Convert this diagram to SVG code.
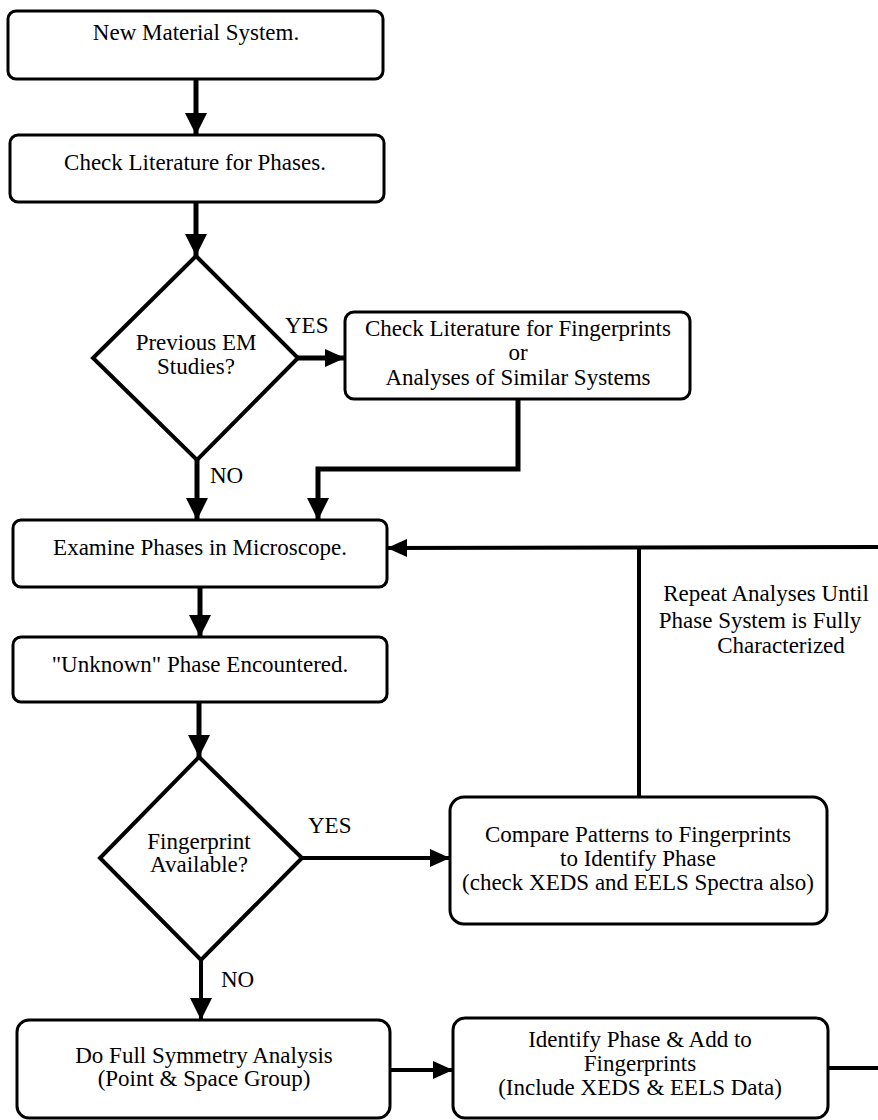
<svg xmlns="http://www.w3.org/2000/svg" width="878" height="1120" viewBox="0 0 878 1120">
<defs>
<style>
.box{fill:#fff;stroke:#000;stroke-width:3}
.dia{fill:#fff;stroke:#000;stroke-width:4}
.t{font-family:"Liberation Serif","Times New Roman",serif;font-size:23px;fill:#000;text-anchor:middle}
.l{font-family:"Liberation Serif","Times New Roman",serif;font-size:23px;fill:#000}
.c{fill:none;stroke:#000;stroke-width:5}
.f{fill:none;stroke:#000;stroke-width:4}
</style>
<marker id="av" markerUnits="userSpaceOnUse" markerWidth="22" markerHeight="22" refX="22" refY="11" orient="auto">
<path d="M0,0 L22,11 L0,22 z" fill="#000"/>
</marker>
<marker id="ah" markerUnits="userSpaceOnUse" markerWidth="20" markerHeight="18" refX="20" refY="9" orient="auto">
<path d="M0,0 L20,9 L0,18 z" fill="#000"/>
</marker>
</defs>
<rect width="878" height="1120" fill="#fff"/>
<g id="connectors">
<path class="c" d="M196,79 L196,135" marker-end="url(#av)"/>
<path class="c" d="M196,202 L196,256" marker-end="url(#av)"/>
<path class="c" d="M298,358 L345,358" marker-end="url(#ah)"/>
<path class="c" d="M197,460 L197,520" marker-end="url(#av)"/>
<path class="c" d="M518,400 L518,469 L318,469 L318,520" marker-end="url(#av)"/>
<path class="c" d="M200,587 L200,637" marker-end="url(#av)"/>
<path class="c" d="M199,702 L199,757" marker-end="url(#av)"/>
<path class="f" d="M302,858 L450,858" marker-end="url(#ah)"/>
<path class="f" d="M201,960 L201,1020" marker-end="url(#av)"/>
<path class="f" d="M390,1070 L453,1070" marker-end="url(#ah)"/>
<path class="f" d="M828,1068 L882,1068 L882,547 L387,548" marker-end="url(#ah)"/>
<path class="f" d="M639,797 L639,547"/>
</g>
<g id="labels">
<text class="l" x="285" y="333">YES</text>
<text class="l" x="210" y="483">NO</text>
<text class="l" x="308" y="833">YES</text>
<text class="l" x="221" y="987">NO</text>
<text class="t" x="766" y="601">Repeat Analyses Until</text>
<text class="t" x="760" y="628">Phase System is Fully</text>
<text class="t" x="781" y="653">Characterized</text>
</g>
<g id="n1">
<rect class="box" x="8" y="11" width="375" height="68" rx="8"/>
<text class="t" x="196" y="40">New Material System.</text>
</g>
<g id="n2">
<rect class="box" x="10" y="135" width="374" height="67" rx="8"/>
<text class="t" x="195" y="170">Check Literature for Phases.</text>
</g>
<g id="d1">
<polygon class="dia" points="196,256 298,358 197,460 93,358"/>
<text class="t" x="196" y="350">Previous EM</text>
<text class="t" x="196" y="374">Studies?</text>
</g>
<g id="n3">
<rect class="box" x="345" y="312" width="345" height="87" rx="9"/>
<text class="t" x="518" y="336">Check Literature for Fingerprints</text>
<text class="t" x="518" y="360">or</text>
<text class="t" x="518" y="385">Analyses of Similar Systems</text>
</g>
<g id="n4">
<rect class="box" x="13" y="520" width="374" height="67" rx="8"/>
<text class="t" x="200" y="555">Examine Phases in Microscope.</text>
</g>
<g id="n5">
<rect class="box" x="13" y="637" width="374" height="65" rx="8"/>
<text class="t" x="200" y="672">"Unknown" Phase Encountered.</text>
</g>
<g id="d2">
<polygon class="dia" points="199,757 302,858 201,960 100,858"/>
<text class="t" x="199" y="849">Fingerprint</text>
<text class="t" x="199" y="872">Available?</text>
</g>
<g id="n6">
<rect class="box" x="450" y="797" width="377" height="127" rx="14"/>
<text class="t" x="638" y="842">Compare Patterns to Fingerprints</text>
<text class="t" x="638" y="866">to Identify Phase</text>
<text class="t" x="638" y="890">(check XEDS and EELS Spectra also)</text>
</g>
<g id="n7">
<rect class="box" x="17" y="1020" width="373" height="98" rx="12"/>
<text class="t" x="204" y="1063">Do Full Symmetry Analysis</text>
<text class="t" x="204" y="1086">(Point &amp; Space Group)</text>
</g>
<g id="n8">
<rect class="box" x="453" y="1018" width="375" height="100" rx="12"/>
<text class="t" x="640" y="1047">Identify Phase &amp; Add to</text>
<text class="t" x="640" y="1071">Fingerprints</text>
<text class="t" x="640" y="1095">(Include XEDS &amp; EELS Data)</text>
</g>
</svg>
